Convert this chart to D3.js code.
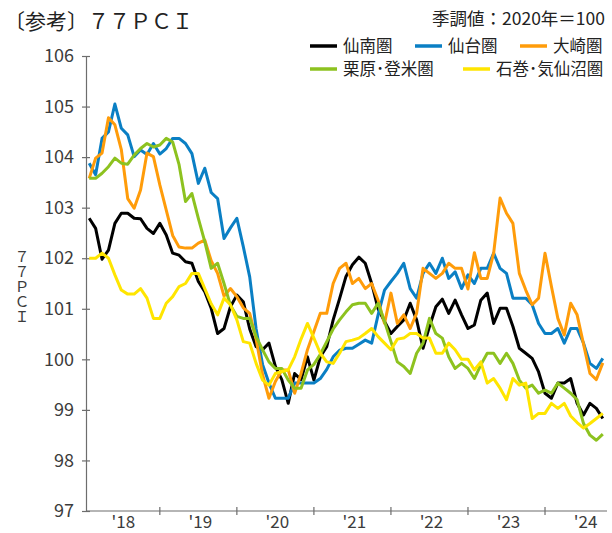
<!DOCTYPE html>
<html><head><meta charset="utf-8">
<script src="https://cdn.jsdelivr.net/npm/d3@7"></script>
<style>
body{margin:0;background:#fff}
svg{display:block}
text{font-family:"Noto Sans CJK JP","Noto Sans",sans-serif}
</style>
</head><body>
<svg id="chart" width="612" height="533"></svg>
<script>
// ---- data ----
const months = d3.timeMonth.range(new Date(2018, 1, 1), new Date(2024, 10, 1)); // Feb 2018 .. Oct 2024
const yearLabels = ["'18", "'19", "'20", "'21", "'22", "'23", "'24"];
const yTicks = [97, 98, 99, 100, 101, 102, 103, 104, 105, 106];
const seriesNames = ["仙南圏", "仙台圏", "大崎圏", "栗原･登米圏", "石巻･気仙沼圏"];
const seriesColors = ["#000000", "#0a7fc4", "#ff9c0a", "#8dc21f", "#ffe500"];

const sennan = [102.79,102.59,101.98,102.16,102.69,102.89,102.89,102.79,102.78,102.59,
102.49,102.69,102.46,102.1,102.06,101.93,101.9,101.54,101.34,101.01,
100.51,100.61,101.04,101.27,101.14,100.6,100.25,100.19,100.32,99.86,
99.6,99.13,99.72,99.6,100.05,99.59,100.05,100.25,100.78,101.2,
101.64,101.87,102.02,101.9,101.5,101.0,100.75,100.51,100.65,100.78,
101.11,100.78,100.22,100.65,101.04,101.19,100.91,101.17,100.88,100.61,
100.68,101.17,101.31,100.71,101.01,101.01,100.65,100.22,100.12,100.02,
99.75,99.33,99.23,99.53,99.53,99.62,99.13,98.9,99.13,99.03,
98.83];
const sendai = [103.88,103.65,104.37,104.5,105.05,104.57,104.44,104.01,104.14,104.05,
104.27,104.06,104.17,104.37,104.37,104.27,104.07,103.48,103.78,103.3,
103.18,102.39,102.6,102.79,102.23,101.63,100.6,99.9,99.53,99.23,
99.23,99.23,99.53,99.53,99.53,99.53,99.62,99.8,100.05,100.18,
100.22,100.22,100.3,100.38,100.32,100.88,101.37,101.54,101.7,101.9,
101.4,101.21,101.7,101.9,101.7,102.0,101.6,101.73,101.4,101.67,
101.5,101.8,101.8,102.1,101.8,101.7,101.21,101.21,101.21,101.08,
100.71,100.51,100.51,100.61,100.32,100.61,100.61,100.32,99.92,99.82,
100.02];
const osaki = [103.58,103.98,104.08,104.78,104.64,104.15,103.18,102.99,103.35,104.08,
104.01,103.45,102.95,102.45,102.22,102.2,102.2,102.3,102.36,101.95,
101.7,101.25,101.4,101.24,101.02,100.91,100.4,99.7,99.23,99.56,
99.79,99.79,99.33,99.72,100.19,100.55,100.91,100.91,101.5,101.8,
101.9,101.5,101.6,101.4,101.5,101.17,100.71,101.31,100.71,100.88,
100.61,100.91,101.8,101.7,101.6,101.7,101.9,101.8,101.8,101.39,
102.11,101.6,101.6,102.1,103.19,102.89,102.69,101.7,101.37,101.08,
101.21,102.1,101.44,100.81,100.48,101.11,100.88,100.3,99.72,99.6,
99.93];
const kurihara = [103.58,103.58,103.68,103.81,103.98,103.88,103.86,104.04,104.17,104.27,
104.2,104.24,104.37,104.3,103.85,103.12,103.28,102.79,102.33,101.8,
101.9,101.5,101.07,100.85,100.81,100.81,100.45,100.19,99.95,99.82,
99.82,99.59,99.43,99.43,99.79,99.9,100.1,100.35,100.6,100.78,
100.94,101.08,101.11,101.11,100.91,101.11,100.75,100.35,99.95,99.86,
99.72,100.12,100.32,100.81,100.51,100.42,100.05,99.82,99.92,99.82,
99.62,99.89,100.12,100.12,99.92,100.12,99.92,99.59,99.43,99.49,
99.33,99.39,99.33,99.53,99.43,99.33,99.2,98.73,98.5,98.4,
98.52];
const ishinomaki = [102.0,102.0,102.1,102.0,101.67,101.37,101.29,101.29,101.4,101.21,
100.81,100.81,101.11,101.24,101.44,101.5,101.7,101.7,101.4,101.1,
100.88,101.21,101.08,100.78,100.35,100.32,99.92,99.59,99.49,99.72,
99.76,99.79,100.05,100.4,100.71,100.42,100.12,99.95,99.92,100.12,
100.35,100.38,100.42,100.51,100.61,100.45,100.32,100.19,100.4,100.42,
100.51,100.51,100.42,100.42,100.12,100.12,100.32,100.19,100.0,100.0,
99.79,99.95,99.53,99.62,99.43,99.2,99.62,99.49,99.53,98.83,
98.93,98.93,99.13,99.03,99.13,98.88,98.75,98.64,98.73,98.83,
98.93];

const seriesValues = [sennan, sendai, osaki, kurihara, ishinomaki];

// ---- layout ----
const svg = d3.select("#chart");
const plot = {left: 86, right: 606, top: 56, bottom: 511};
const axisColor = "#6d6d6d";
const textColor = "#3c3c3c";

const x = d3.scaleBand()
  .domain(d3.range(months.length))
  .range([plot.left, plot.right]);
const xc = i => x(i) + x.bandwidth() / 2;
const y = d3.scaleLinear().domain([97, 106]).range([plot.bottom, plot.top]);

// title
svg.append("text").attr("x", 4).attr("y", 29)
  .attr("font-size", 21).attr("fill", "#222")
  .text("〔参考〕７７ＰＣＩ");
svg.append("text").attr("x", 605).attr("y", 25)
  .attr("font-size", 17.5).attr("fill", "#222").attr("text-anchor", "end")
  .text("季調値：2020年＝100");

// legend
const legendPos = [[310, 46], [415, 46], [520, 46], [310, 69], [463, 69]];
seriesNames.forEach((name, k) => {
  const [lx, ly] = legendPos[k];
  const g = svg.append("g").attr("transform", `translate(${lx},${ly})`);
  g.append("line").attr("x1", 0).attr("x2", 27).attr("y1", 0).attr("y2", 0)
    .attr("stroke", seriesColors[k]).attr("stroke-width", 3.5);
  g.append("text").attr("x", 33).attr("y", 6)
    .attr("font-size", 16.5).attr("fill", "#222").text(name);
});

// y axis
const yAxis = d3.axisLeft(y).tickValues(yTicks).tickSizeInner(4).tickSizeOuter(0).tickPadding(8);
const gy = svg.append("g").attr("transform", `translate(${plot.left},0)`).call(yAxis);
gy.select(".domain").attr("stroke", axisColor).attr("stroke-width", 1.2);
gy.selectAll(".tick line").attr("stroke", axisColor).attr("stroke-width", 1.2).attr("x1", 4);
gy.selectAll(".tick text").attr("font-size", 18).attr("fill", textColor)
  .attr("font-family", '"Noto Sans CJK JP","Noto Sans",sans-serif');

// y axis title (vertical, upright characters)
svg.append("text")
  .attr("x", 22).attr("y", 249)
  .attr("font-size", 15).attr("fill", textColor)
  .style("writing-mode", "vertical-rl")
  .style("text-orientation", "upright")
  .text("７７ＰＣＩ");

// x axis
const tickIdx = months.map((m, i) => i).filter(i => months[i].getMonth() === 0);
const labelIdx = months.map((m, i) => i).filter(i => months[i].getMonth() === 6);
const gx = svg.append("g");
gx.append("line").attr("x1", plot.left).attr("x2", plot.right + 1)
  .attr("y1", plot.bottom).attr("y2", plot.bottom)
  .attr("stroke", axisColor).attr("stroke-width", 1.2);
gx.selectAll("line.tk").data(tickIdx).join("line").attr("class", "tk")
  .attr("x1", i => xc(i)).attr("x2", i => xc(i))
  .attr("y1", plot.bottom - 4).attr("y2", plot.bottom + 4)
  .attr("stroke", axisColor).attr("stroke-width", 1.2);
gx.selectAll("text").data(labelIdx).join("text")
  .attr("x", i => xc(i) + 2).attr("y", 528)
  .attr("text-anchor", "middle").attr("font-size", 17).attr("fill", textColor)
  .text((i, k) => yearLabels[k]);

// lines
const line = d3.line().x((d, i) => xc(i)).y(d => y(d)).curve(d3.curveLinear);
svg.append("g").selectAll("path").data(seriesValues).join("path")
  .attr("d", d => line(d))
  .attr("fill", "none")
  .attr("stroke", (d, k) => seriesColors[k])
  .attr("stroke-width", 3)
  .attr("stroke-linejoin", "round")
  .attr("stroke-linecap", "butt");
</script>
</body></html>
